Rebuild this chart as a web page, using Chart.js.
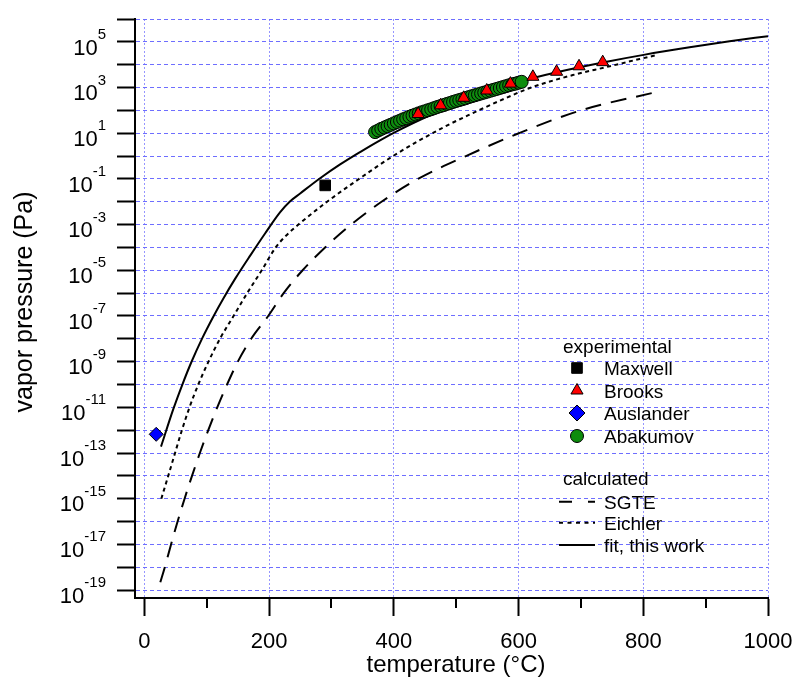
<!DOCTYPE html>
<html>
<head>
<meta charset="utf-8">
<title>Polonium vapor pressure</title>
<script src="https://cdn.jsdelivr.net/npm/chart.js"></script>
<style>
  body { margin: 0; background: #fff; }
  canvas { display: block; }
</style>
</head>
<body>
<canvas id="myChart" width="797" height="680"></canvas>
<script>
// experimental points: temperature (°C) and vapor pressure (Pa)
const maxwellT = [290];
const maxwellP = [0.052];

const brooksT = [439, 475, 512, 549, 587, 623, 661, 697, 735];
const brooksP = [69, 166, 355, 741, 1480, 2950, 4900, 8510, 12900];

const auslanderT = [19];
const auslanderP = [6.6e-13];

const abakumovT = [370, 375, 380, 385, 390, 395, 400, 405, 410, 415, 420, 425,
                   430, 435, 440, 445, 450, 455, 460, 465, 470, 475, 480, 485,
                   490, 495, 500, 505, 510, 515, 520, 525, 530, 535, 540, 545,
                   550, 555, 560, 565, 570, 575, 580, 585, 590, 595, 600, 605];
const abakumovP = [11.2, 13.2, 15.5, 17.8, 20.4, 23.4, 26.9, 30.9, 35.5, 40.7, 45.7, 52.5,
                   58.9, 66.1, 74.1, 83.2, 91.2, 102, 112, 126, 141, 155, 170, 191,
                   209, 234, 257, 282, 309, 339, 380, 417, 457, 501, 550, 603,
                   661, 724, 794, 871, 955, 1047, 1148, 1259, 1380, 1479, 1622, 1778];

// calculated curves
const sgteT = [25.6, 32.8, 42.8, 53.3, 64.5, 76.4, 89.0, 102.5, 116.9, 132.6, 149.9, 171.3,
               198.6, 223.4, 253.8, 289.8, 331.5, 380.3, 438.8, 515.6, 600.5, 699.8, 823.5];
const sgteP = [2.2e-19, 1e-18, 1e-17, 1e-16, 1e-15, 1e-14, 1e-13, 1e-12, 1e-11, 1e-10, 1e-9, 1e-8,
               1e-7, 1e-6, 1e-5, 1e-4, 1e-3, 1e-2, 0.1, 1, 10, 100, 661];

const eichlerT = [27.2, 38.3, 49.2, 60.2, 72.4, 86.5, 102.8, 121.2, 143.0, 164.9, 188.2, 210.6,
                  225.8, 247.1, 293, 344.3, 398.7, 478.8, 526.8, 581.3, 618.1, 687, 741.4, 794.2, 821.5];
const eichlerP = [1e-15, 1e-14, 1e-13, 1e-12, 1e-11, 1e-10, 1e-9, 1e-8, 1e-7, 1e-6, 1e-5, 1e-4,
                  3.0e-4, 1e-3, 1e-2, 0.1, 1, 17.6, 76, 363, 955, 3510, 7940, 17700, 26300];

const fitT = [26.7, 46.4, 60.8, 75.3, 92.9, 110.5, 126.5, 145.7, 169.7, 193.8, 217.8, 233.8,
              249.8, 281.8, 313.9, 345.9, 377.9, 409.9, 458, 506, 554, 602, 661.3, 741.4,
              800.6, 874.3, 938.4, 1000];
const fitP = [1.9e-13, 8.3e-12, 9.7e-11, 9.4e-10, 1.07e-8, 9.3e-8, 5.7e-7, 4.3e-6, 4.4e-5, 4.2e-4,
              3.5e-3, 1.05e-2, 2.3e-2, 0.107, 0.43, 1.5, 4.9, 14.4, 61, 224, 708, 1820, 4680,
              13500, 26900, 57500, 105000, 178000];

// axes
const xTicks = [0, 200, 400, 600, 800, 1000];
const xMinorTicks = [100, 300, 500, 700, 900];
const yTickExps = [-19, -18, -17, -16, -15, -14, -13, -12, -11, -10, -9, -8, -7,
                   -6, -5, -4, -3, -2, -1, 0, 1, 2, 3, 4, 5, 6];
const yLabelExps = [-19, -17, -15, -13, -11, -9, -7, -5, -3, -1, 1, 3, 5];

const FONT = '"Liberation Sans", Arial, sans-serif';

function pts(xs, ys) {
  return xs.map((x, i) => ({ x: x, y: ys[i] }));
}

function markerSet(label, xs, ys, style, radius, fill) {
  return {
    label: label,
    data: pts(xs, ys),
    showLine: false,
    pointStyle: style,
    pointRadius: radius,
    pointBackgroundColor: fill,
    pointBorderColor: '#000',
    pointBorderWidth: 1
  };
}

function lineSet(label, xs, ys, dash) {
  return {
    label: label,
    data: pts(xs, ys),
    showLine: true,
    pointRadius: 0,
    borderColor: '#000',
    borderWidth: 2,
    borderDash: dash,
    cubicInterpolationMode: 'monotone',
    fill: false
  };
}

// first dataset ends up on top
const datasets = [
  markerSet('Brooks', brooksT, brooksP, 'triangle', 7, '#ff0000'),
  markerSet('Abakumov', abakumovT, abakumovP, 'circle', 6.5, '#0e8c0e'),
  markerSet('Maxwell', maxwellT, maxwellP, 'rect', 7.5, '#000'),
  markerSet('Auslander', auslanderT, auslanderP, 'rectRot', 7, '#0000ff'),
  lineSet('fit, this work', fitT, fitP, []),
  lineSet('Eichler', eichlerT, eichlerP, [4, 3.5]),
  lineSet('SGTE', sgteT, sgteP, [16, 10])
];

function drawMarker(ctx, style, x, y, r, fill) {
  ctx.fillStyle = fill;
  ctx.strokeStyle = '#000';
  ctx.lineWidth = 1;
  ctx.setLineDash([]);
  Chart.helpers.drawPoint(ctx, { pointStyle: style, radius: r, rotation: 0, borderWidth: 1 }, x, y);
}

function drawLegendLine(ctx, y, dash) {
  ctx.strokeStyle = '#000';
  ctx.lineWidth = 2;
  ctx.setLineDash(dash);
  ctx.beginPath();
  ctx.moveTo(559, y);
  ctx.lineTo(595, y);
  ctx.stroke();
  ctx.setLineDash([]);
}

// tick labels with superscripts, minor ticks, axis titles and the legend
const decorations = {
  id: 'decorations',
  afterDraw(chart) {
    const ctx = chart.ctx;
    const xs = chart.scales.x;
    const ys = chart.scales.y;
    const area = chart.chartArea;
    ctx.save();

    ctx.strokeStyle = '#000';
    ctx.lineWidth = 2;
    xMinorTicks.forEach(v => {
      const px = Math.round(xs.getPixelForValue(v));
      ctx.beginPath();
      ctx.moveTo(px, area.bottom + 1);
      ctx.lineTo(px, area.bottom + 10);
      ctx.stroke();
    });

    ctx.fillStyle = '#000';
    ctx.textBaseline = 'alphabetic';
    ctx.font = '22px ' + FONT;
    ctx.textAlign = 'center';
    xTicks.forEach(v => ctx.fillText(String(v), xs.getPixelForValue(v), 648));

    ctx.textAlign = 'right';
    yLabelExps.forEach(e => {
      const py = ys.getPixelForValue(Math.pow(10, e));
      const exp = String(e);
      ctx.font = '15px ' + FONT;
      const w = ctx.measureText(exp).width;
      ctx.fillText(exp, 106, py - 3);
      ctx.font = '22px ' + FONT;
      ctx.fillText('10', 106 - w, py + 12.7);
    });

    ctx.font = '24px ' + FONT;
    ctx.textAlign = 'center';
    ctx.fillText('temperature (°C)', 456, 672);
    ctx.font = '25px ' + FONT;
    ctx.save();
    ctx.translate(32, 302);
    ctx.rotate(-Math.PI / 2);
    ctx.fillText('vapor pressure (Pa)', 0, 0);
    ctx.restore();

    // legend
    ctx.font = '19px ' + FONT;
    ctx.textAlign = 'left';
    ctx.fillStyle = '#000';
    ctx.fillText('experimental', 563, 353);
    const rows = [
      ['Maxwell', 'rect', 7.5, '#000', 368],
      ['Brooks', 'triangle', 7, '#ff0000', 390.5],
      ['Auslander', 'rectRot', 8, '#0000ff', 413],
      ['Abakumov', 'circle', 6.5, '#0e8c0e', 436]
    ];
    rows.forEach(r => {
      drawMarker(ctx, r[1], 577, r[4], r[2], r[3]);
      ctx.fillStyle = '#000';
      ctx.fillText(r[0], 604, r[4] + 7);
    });
    ctx.fillText('calculated', 563, 485);
    const lines = [
      ['SGTE', [13, 16], 501.7],
      ['Eichler', [4, 4.5], 522.7],
      ['fit, this work', [], 545]
    ];
    lines.forEach(l => {
      drawLegendLine(ctx, l[2], l[1]);
      ctx.fillStyle = '#000';
      ctx.fillText(l[0], 604, l[2] + 7);
    });

    ctx.restore();
  }
};

const ctx = document.getElementById('myChart').getContext('2d');
const myChart = new Chart(ctx, {
  type: 'scatter',
  data: { datasets: datasets },
  options: {
    responsive: false,
    animation: false,
    events: [],
    layout: { padding: { left: 0, right: 29, top: 19, bottom: 0 } },
    plugins: { legend: { display: false }, tooltip: { enabled: false } },
    scales: {
      x: {
        type: 'linear',
        min: -15,
        max: 1000,
        afterBuildTicks: s => { s.ticks = xTicks.map(v => ({ value: v })); },
        afterFit: s => { s.height = 82; },
        ticks: { display: false },
        grid: {
          color: 'rgb(150,150,255)',
          lineWidth: 1,
          tickColor: '#000',
          tickWidth: 2,
          tickLength: 18,
          tickBorderDash: []
        },
        border: { display: true, color: '#000', width: 2, dash: [2, 2] }
      },
      y: {
        type: 'logarithmic',
        min: 4.5e-20,
        max: 1e6,
        afterBuildTicks: s => { s.ticks = yTickExps.map(e => ({ value: Math.pow(10, e) })); },
        afterFit: s => { s.width = 135; },
        ticks: { display: false },
        grid: {
          color: 'rgb(110,110,255)',
          lineWidth: 1,
          tickColor: '#000',
          tickWidth: 2,
          tickLength: 18,
          tickBorderDash: []
        },
        border: { display: true, color: '#000', width: 2, dash: [4, 3] }
      }
    }
  },
  plugins: [decorations]
});
</script>
</body>
</html>
